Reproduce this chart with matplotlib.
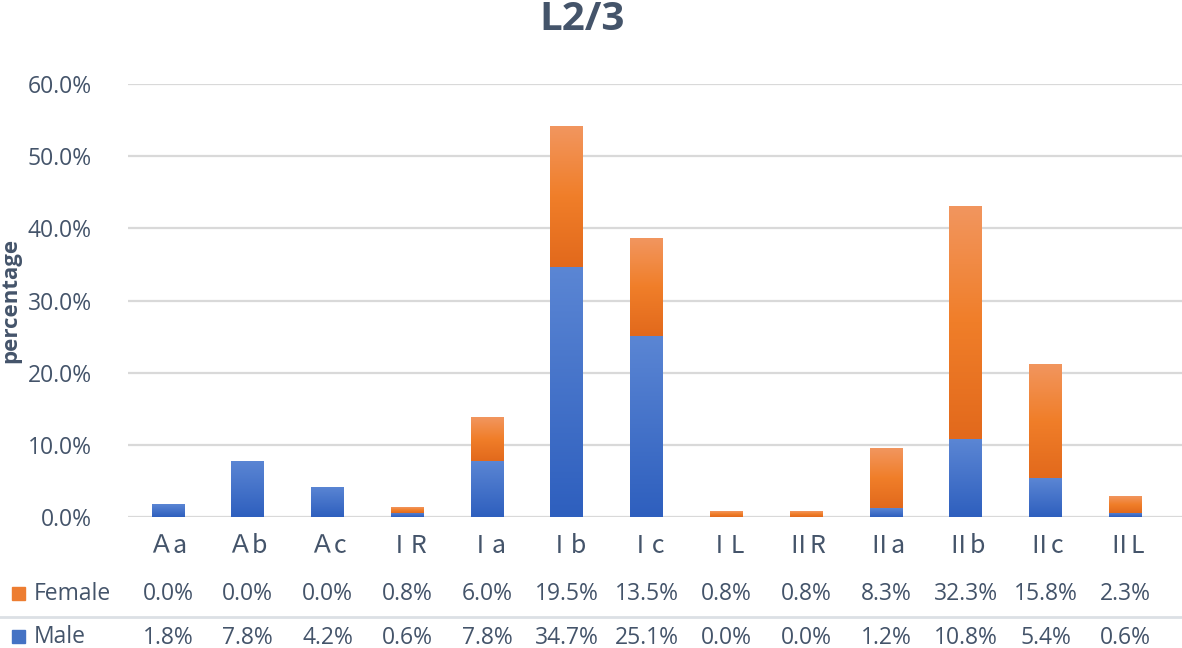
import numpy as np
import matplotlib
matplotlib.use("Agg")
import matplotlib.pyplot as plt
from matplotlib.colors import LinearSegmentedColormap
from matplotlib.transforms import blended_transform_factory
from matplotlib.patches import Rectangle

categories = ["Ａa", "Ａb", "Ａc", "ⅠR", "Ⅰa", "Ⅰb", "Ⅰc", "ⅠL", "ⅡR", "Ⅱa", "Ⅱb", "Ⅱc", "ⅡL"]
female = [0.0, 0.0, 0.0, 0.8, 6.0, 19.5, 13.5, 0.8, 0.8, 8.3, 32.3, 15.8, 2.3]
male = [1.8, 7.8, 4.2, 0.6, 7.8, 34.7, 25.1, 0.0, 0.0, 1.2, 10.8, 5.4, 0.6]
yticks = [0, 10, 20, 30, 40, 50, 60]
title = "L2/3"
ylabel = "percentage"

TXT = "#44546A"
GRID = "#D9D9D9"
plt.rcParams['font.family'] = ['Open Sans', 'DejaVu Sans']

W, H = 1182, 648
fig = plt.figure(figsize=(W / 100, H / 100), dpi=100)
left, right = 128 / W, 1.0
bottom, top = 1 - 517 / H, 1 - 84 / H
ax = fig.add_axes([left, bottom, right - left, top - bottom])

x = np.arange(len(categories))
fem = np.array(female) / 100
mal = np.array(male) / 100
bw = 0.41

male_cmap = LinearSegmentedColormap.from_list("m", ["#2E5FBE", "#5B86D4"])
fem_cmap = LinearSegmentedColormap.from_list("f", ["#E2691C", "#F07E29", "#F2965F"])

bars_m = ax.bar(x, mal, bw, color="#4472C4", zorder=2, linewidth=0)
bars_f = ax.bar(x, fem, bw, bottom=mal, color="#ED7D31", zorder=2, linewidth=0)

grad = np.linspace(0, 1, 256).reshape(-1, 1)
for bars, cmap in ((bars_m, male_cmap), (bars_f, fem_cmap)):
    for b in bars:
        h = b.get_height()
        if h <= 0:
            continue
        x0 = b.get_x()
        y0 = b.get_y()
        im = ax.imshow(grad, cmap=cmap, origin="lower", aspect="auto",
                       extent=[x0, x0 + b.get_width(), y0, y0 + h], zorder=3)
        im.set_clip_path(b)

ax.set_xlim(-0.5, 12.71)
ax.set_ylim(0, 0.6)
ax.set_yticks([v / 100 for v in yticks])
ax.set_yticklabels([f"{v:.1f}%" for v in yticks], color=TXT, fontsize=16.5)
ax.tick_params(axis="y", length=0, pad=26)
ax.set_xticks([])
ax.yaxis.grid(True, color=GRID, linewidth=1.6, zorder=0)
ax.set_axisbelow(True)
for s in ax.spines.values():
    s.set_visible(False)

fig.text(582 / W, 1 - 20 / H, title, ha="center", va="center",
         fontsize=29, fontweight="bold", color=TXT)
fig.text(11 / W, 1 - 300 / H, ylabel, ha="center", va="center", rotation=90,
         fontsize=16, fontweight="bold", color=TXT)

tr = blended_transform_factory(ax.transData, fig.transFigure)
for xi, c, f, m in zip(x, categories, female, male):
    ax.text(xi, 1 - 546 / H, c, transform=tr, ha="center", va="center",
            fontsize=18, color=TXT,
            family=["Noto Sans CJK JP", "DejaVu Sans"])
    ax.text(xi, 1 - 594 / H, f"{f:.1f}%", transform=tr, ha="center",
            va="center", fontsize=16.5, color=TXT)
    ax.text(xi, 1 - 638 / H, f"{m:.1f}%", transform=tr, ha="center",
            va="center", fontsize=16.5, color=TXT)

# separator line between table rows
fig.add_artist(plt.Line2D([0, 1], [1 - 617 / H, 1 - 617 / H],
                          transform=fig.transFigure, color="#DCE0E5",
                          linewidth=2))

# legend keys
fig.add_artist(Rectangle((12 / W, 1 - 600 / H), 13 / W, 13 / H,
                         transform=fig.transFigure, color="#ED7D31"))
fig.add_artist(Rectangle((12 / W, 1 - 643 / H), 13 / W, 13 / H,
                         transform=fig.transFigure, color="#4472C4"))
fig.text(34 / W, 1 - 594 / H, "Female", ha="left", va="center",
         fontsize=16.5, color=TXT)
fig.text(34 / W, 1 - 637 / H, "Male", ha="left", va="center",
         fontsize=16.5, color=TXT)

fig.savefig("out.png", dpi=100, facecolor="white")
